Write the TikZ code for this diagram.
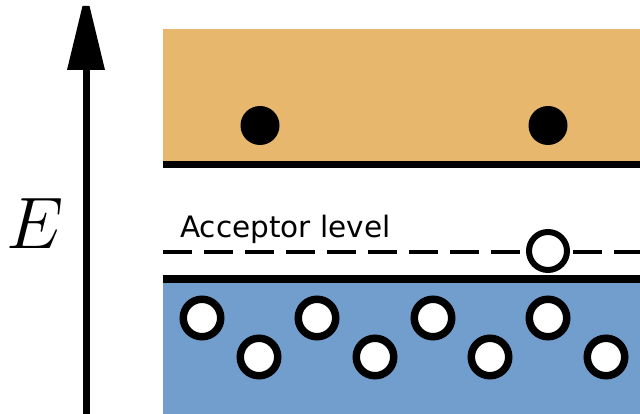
\RequirePackage{fix-cm}
\documentclass[tikz,border=0pt]{standalone}
\usepackage{fontspec}
\newfontfamily\dejavu{DejaVu Sans}
\definecolor{condband}{RGB}{232,183,110}
\definecolor{valband}{RGB}{114,158,206}
\tikzset{
  electron/.style={circle, fill=black, inner sep=0pt, minimum size=39pt},
  hole/.style={circle, draw=black, line width=7.5pt, fill=white, inner sep=0pt, minimum size=37.5pt},
  acchole/.style={circle, draw=black, line width=6pt, fill=white, inner sep=0pt, minimum size=38pt},
  bandedge/.style={line width=7.5pt},
  acclevel/.style={line width=4pt, dash pattern=on 28.5pt off 12.5pt},
}
\begin{document}
\begin{tikzpicture}[x=1pt,y=-1pt]
\useasboundingbox (0,0) rectangle (640,414);
% bands
\fill[condband] (163,29) rectangle (640,162);
\fill[valband] (163,280) rectangle (640,414);
\coordinate (cbL) at (163,164.5);
\coordinate (cbR) at (640,164.5);
\coordinate (vbL) at (163,279);
\coordinate (vbR) at (640,279);
\draw[bandedge] (cbL) -- (cbR);
\draw[bandedge] (vbL) -- (vbR);
% acceptor level
\coordinate (acL) at (163,252);
\coordinate (acR) at (640,252);
\draw[acclevel] (acL) -- (acR);
\node[font=\dejavu\fontsize{29.5}{34}\selectfont, anchor=base west, inner sep=0pt] (acctext) at (180,237) {Acceptor level};
% energy axis
\coordinate (axB) at (86,414);
\coordinate (axT) at (86,66);
\draw[line width=7pt] (axB) -- (axT);
\fill[black] (82.5,6) -- (89.5,6) -- (105,70) -- (67,70) -- cycle;
\node[font=\fontsize{73}{80}\selectfont, anchor=base west, inner sep=0pt] (E) at (6,248) {$E$};
% electrons
\node[electron] (e1) at (260,125.5) {};
\node[electron] (e2) at (548,125.5) {};
% acceptor hole
\node[acchole] (ah) at (548,251) {};
% valence holes
\node[hole] (h1) at (202,318) {};
\node[hole] (h2) at (317,318) {};
\node[hole] (h3) at (433,318) {};
\node[hole] (h4) at (548,318) {};
\node[hole] (h5) at (259,357) {};
\node[hole] (h6) at (375,357) {};
\node[hole] (h7) at (490,357) {};
\node[hole] (h8) at (606,357) {};
\end{tikzpicture}
\end{document}
